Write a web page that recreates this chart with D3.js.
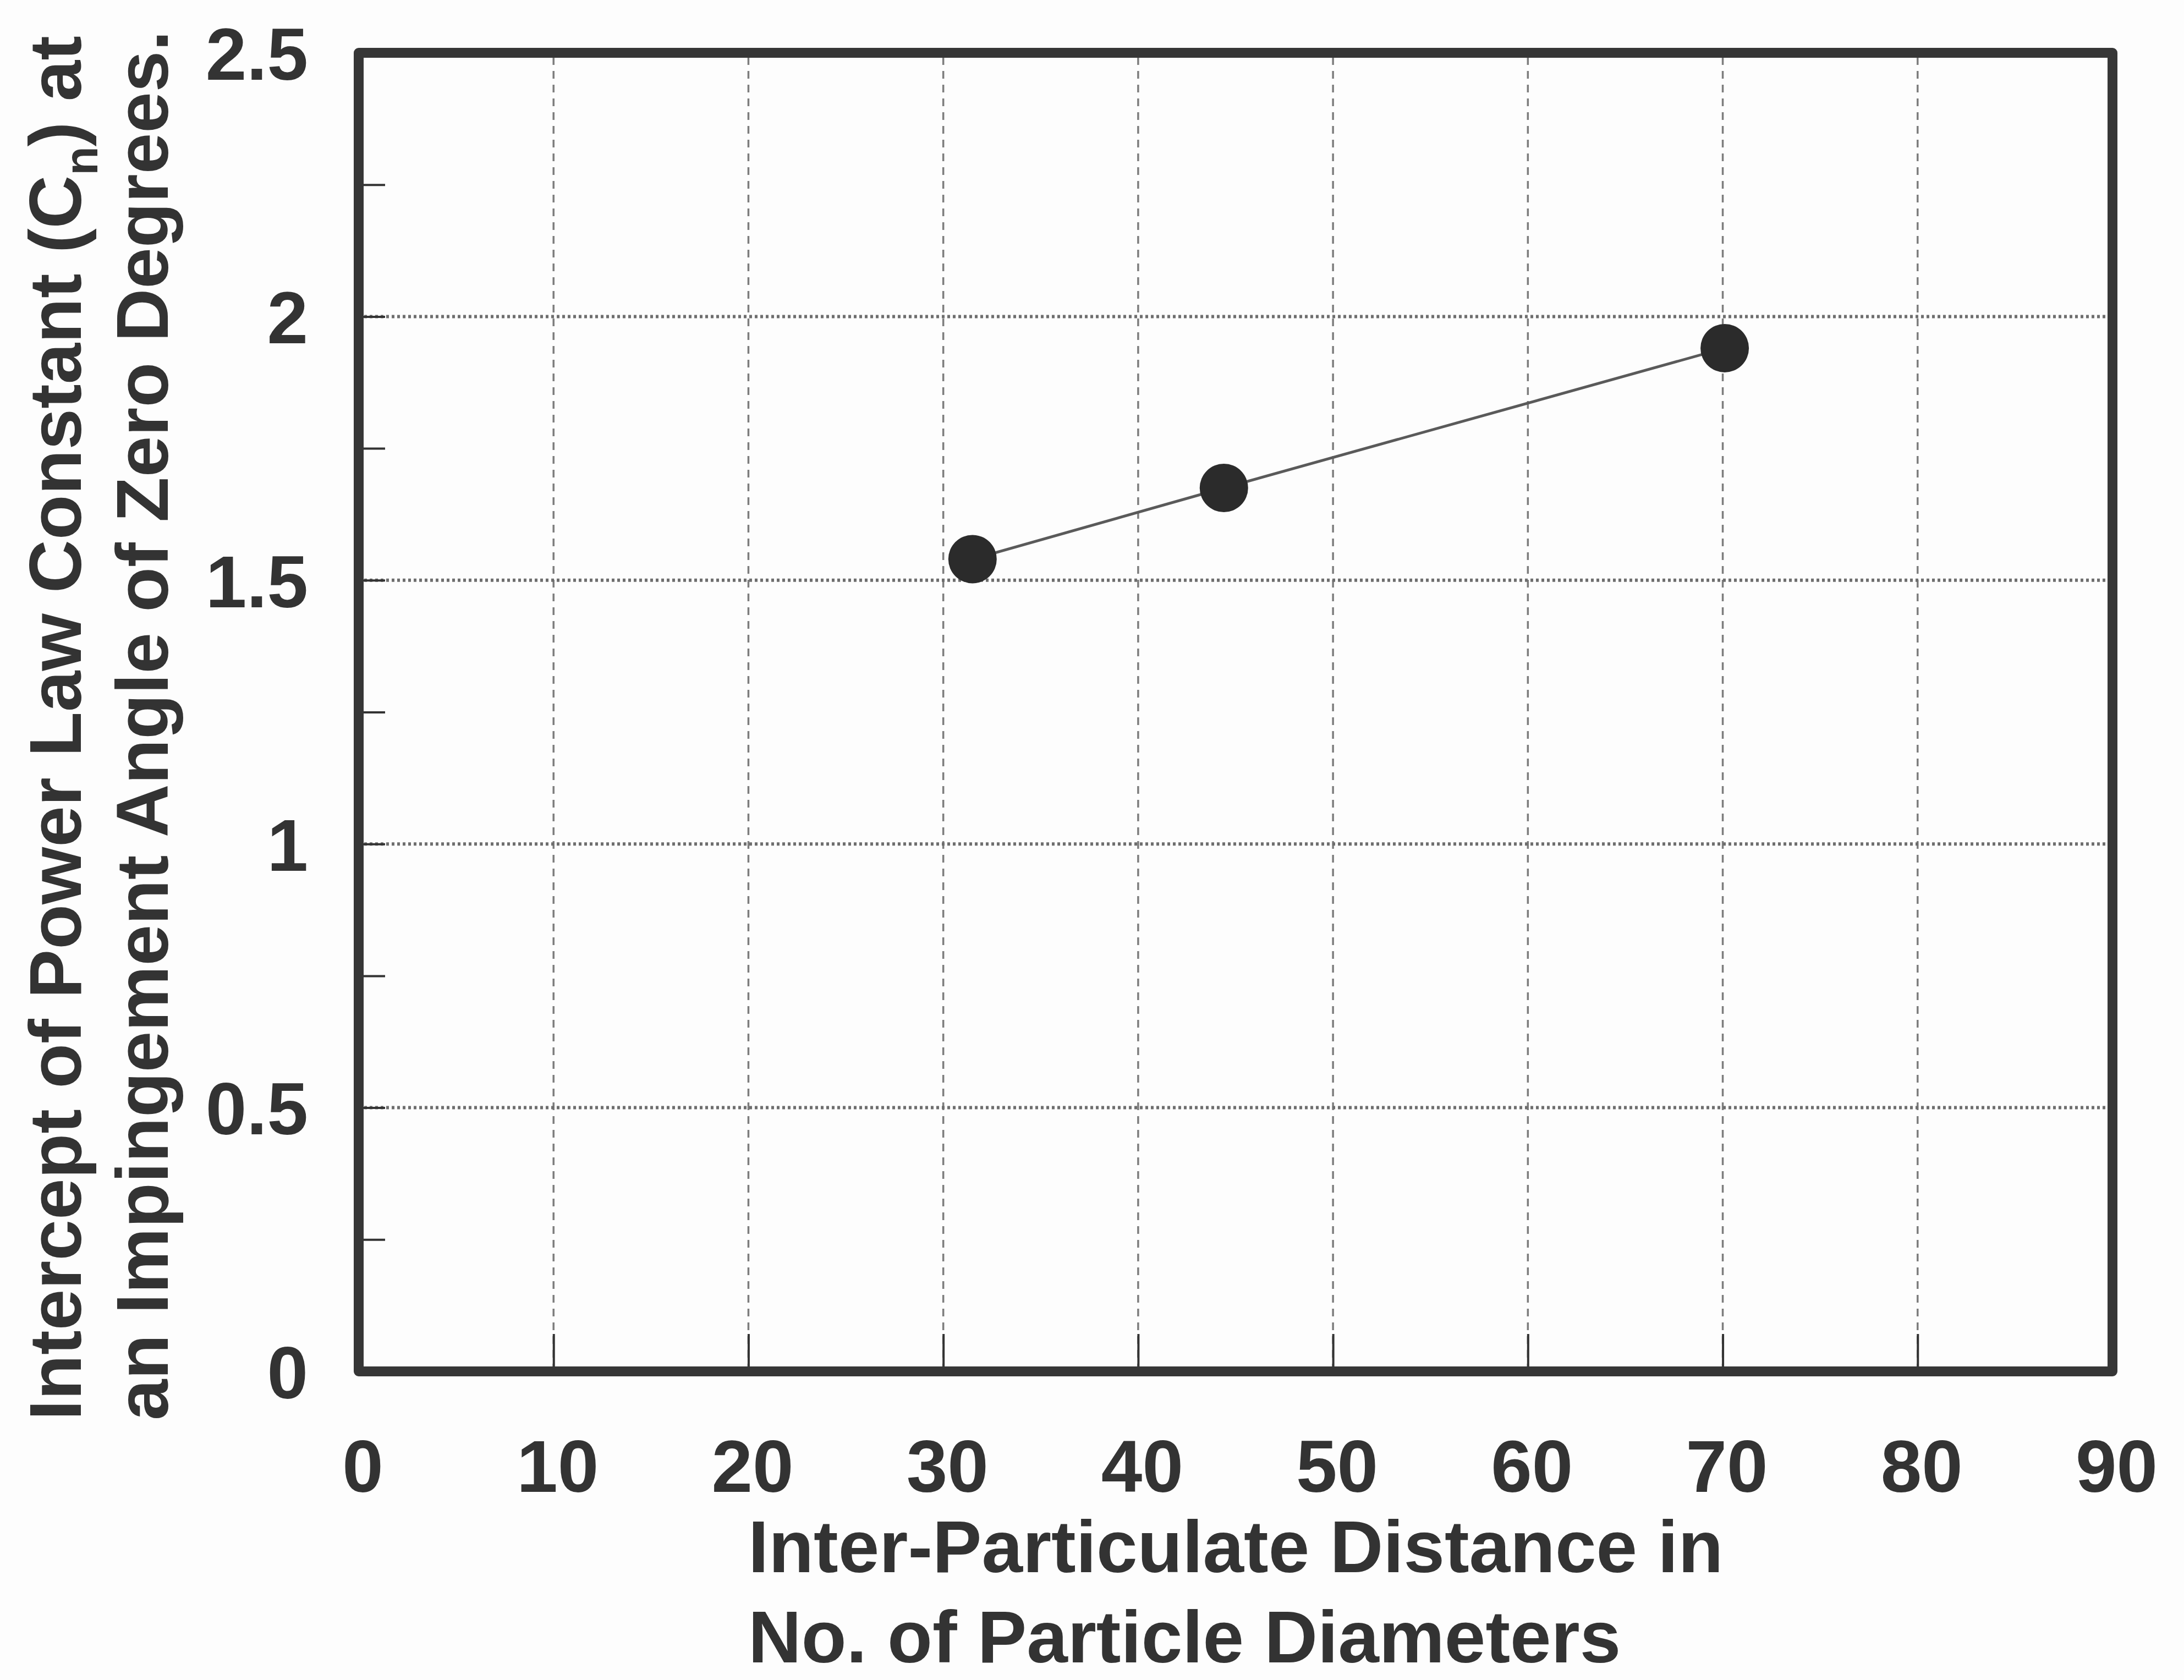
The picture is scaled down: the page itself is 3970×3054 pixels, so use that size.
<!DOCTYPE html>
<html>
<head>
<meta charset="utf-8">
<script src="https://cdn.jsdelivr.net/npm/d3@7"></script>
<style>
  html, body { margin: 0; padding: 0; background: #fdfdfd; }
  svg { display: block; font-family: 'Liberation Sans', Arial, sans-serif; }
</style>
</head>
<body>
<svg id="chart" width="3970" height="3054"></svg>
<script>
// data
const distance = [31.5, 44.4, 70.1];
const intercept = [1.54, 1.675, 1.94];

const xTicks = [0, 10, 20, 30, 40, 50, 60, 70, 80, 90];
const yTicks = [0, 0.5, 1, 1.5, 2, 2.5];
const yTickLabels = ['0', '0.5', '1', '1.5', '2', '2.5'];
const yMinorTicks = [0.25, 0.75, 1.25, 1.75, 2.25];

const xTitle = ['Inter-Particulate Distance in', 'No. of Particle Diameters'];
const yTitle2 = 'an Impingement Angle of Zero Degrees.';

const INK = '#333';

const svg = d3.select('#chart');
const frame = { left: 652, right: 3840, top: 96, bottom: 2493 };

const x = d3.scaleLinear().domain([0, 90]).range([frame.left, frame.right]);
const y = d3.scaleLinear().domain([0, 2.5]).range([frame.bottom, frame.top]);

// grid: vertical dashed, horizontal dotted
const grid = svg.append('g');
grid.selectAll('.vgrid')
  .data(xTicks.slice(1, -1))
  .enter().append('line')
  .attr('x1', d => x(d)).attr('x2', d => x(d))
  .attr('y1', frame.bottom).attr('y2', frame.top)
  .attr('stroke', '#7d7d7d').attr('stroke-width', 3.5)
  .attr('stroke-dasharray', '14,11');
grid.selectAll('.hgrid')
  .data(yTicks.slice(1, -1))
  .enter().append('line')
  .attr('x1', frame.left).attr('x2', frame.right)
  .attr('y1', d => y(d)).attr('y2', d => y(d))
  .attr('stroke', '#6e6e6e').attr('stroke-width', 6)
  .attr('stroke-dasharray', '5,5');

// inner tick marks
const xTickAxis = svg.append('g')
  .attr('transform', `translate(0,${frame.bottom})`)
  .call(d3.axisBottom(x).tickValues(xTicks.slice(1, -1)).tickSize(-68).tickFormat(''));
const yMinorAxis = svg.append('g')
  .attr('transform', `translate(${frame.left},0)`)
  .call(d3.axisLeft(y).tickValues(yMinorTicks.concat(yTicks.slice(1, -1))).tickSize(-48).tickFormat(''));
[xTickAxis, yMinorAxis].forEach(a => {
  a.select('.domain').remove();
  a.selectAll('line').attr('stroke', INK).attr('stroke-width', 4);
});

// tick labels
const xAxis = svg.append('g')
  .attr('transform', `translate(0,${frame.bottom})`)
  .call(d3.axisBottom(x).tickValues(xTicks).tickSize(0).tickPadding(124).tickFormat(d3.format('d')));
const yAxis = svg.append('g')
  .attr('transform', `translate(${frame.left},0)`)
  .call(d3.axisLeft(y).tickValues(yTicks).tickSize(0).tickPadding(92)
    .tickFormat((d, i) => yTickLabels[i]));
[xAxis, yAxis].forEach(a => {
  a.select('.domain').remove();
  a.selectAll('text')
    .attr('fill', INK)
    .style('font-size', '134px')
    .style('font-weight', 'bold')
    .style('font-family', "'Liberation Sans', Arial, sans-serif");
});
xAxis.selectAll('text').attr('dx', 7);
yAxis.selectAll('text').attr('dy', '0.36em');

// data line + markers
const line = d3.line().x(d => x(d[0])).y(d => y(d[1]));
const pts = distance.map((d, i) => [d, intercept[i]]);
svg.append('path')
  .datum(pts)
  .attr('d', line)
  .attr('fill', 'none')
  .attr('stroke', '#5a5a5a')
  .attr('stroke-width', 5);
svg.selectAll('.dot')
  .data(pts)
  .enter().append('circle')
  .attr('cx', d => x(d[0]))
  .attr('cy', d => y(d[1]))
  .attr('r', 44)
  .attr('fill', '#2b2b2b');

// plot frame
svg.append('rect')
  .attr('x', frame.left).attr('y', frame.top)
  .attr('width', frame.right - frame.left)
  .attr('height', frame.bottom - frame.top)
  .attr('fill', 'none')
  .attr('stroke', '#363636')
  .attr('stroke-width', 18)
  .attr('stroke-linejoin', 'round');

// x title, two lines, left aligned
svg.selectAll('.xtitle')
  .data(xTitle)
  .enter().append('text')
  .attr('x', 1360)
  .attr('y', (d, i) => 2858 + i * 164)
  .attr('fill', INK)
  .style('font-size', '134px')
  .style('font-weight', 'bold')
  .text(d => d);

// y title, rotated, two lines
const yt1 = svg.append('text')
  .attr('transform', 'translate(147,2582) rotate(-90)')
  .attr('fill', INK)
  .style('font-size', '134px')
  .style('font-weight', 'bold');
yt1.append('tspan').text('Intercept of Power Law Constant (C');
yt1.append('tspan').text('n').style('font-size', '86px').attr('dy', 30);
yt1.append('tspan').text(') at').attr('dy', -30);

svg.append('text')
  .attr('transform', 'translate(305,2582) rotate(-90)')
  .attr('fill', INK)
  .style('font-size', '134px')
  .style('font-weight', 'bold')
  .text(yTitle2);
</script>
</body>
</html>
